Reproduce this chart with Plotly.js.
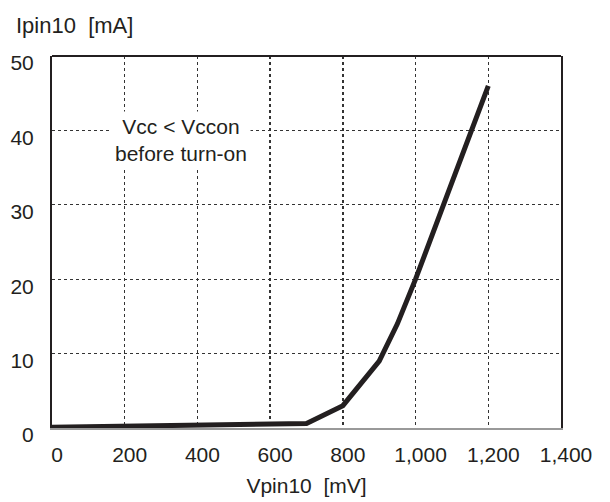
<!DOCTYPE html>
<html>
<head>
<meta charset="utf-8">
<script src="https://cdn.plot.ly/plotly-3.0.1.min.js"></script>
<style>html,body{margin:0;padding:0;background:#fff;}#chart{width:610px;height:502px;}</style>
</head>
<body>
<div id="chart"></div>
<script>
var vpin = [0, 100, 200, 300, 400, 500, 600, 700, 800, 900, 950, 1000, 1100, 1200];
var ipin = [0.1, 0.15, 0.2, 0.3, 0.35, 0.45, 0.5, 0.6, 3.0, 9.0, 14.0, 20.0, 33.0, 46.0];
var xTicks = [0, 200, 400, 600, 800, 1000, 1200, 1400];
var xTickText = ['0', '200', '400', '600', '800', '1,000', '1,200', '1,400'];
var yTicks = [0, 10, 20, 30, 40, 50];
var xTitle = 'Vpin10  [mV]';
var yTitle = 'Ipin10  [mA]';
var noteText = 'Vcc &lt; Vccon<br>before turn-on';

var FONT = '"Liberation Sans", Arial, sans-serif';

var trace = {
  x: vpin, y: ipin, type: 'scatter', mode: 'lines',
  line: {color: '#231f20', width: 5},
  hoverinfo: 'skip'
};

var layout = {
  width: 610, height: 502,
  margin: {l: 52, r: 49, t: 56, b: 74},
  paper_bgcolor: '#fff', plot_bgcolor: '#fff',
  showlegend: false,
  font: {family: FONT, color: '#231f20', size: 21},
  xaxis: {
    range: [0, 1400], tickvals: xTicks, ticktext: xTickText,
    showgrid: true, gridcolor: '#333', griddash: 'dot', gridwidth: 1.3,
    zeroline: false, showline: true, linecolor: '#999', linewidth: 2,
    ticks: '', ticklabelstandoff: 7, ticklabelshift: 5,
    tickfont: {family: FONT, size: 21, color: '#231f20'},
    title: {text: xTitle, standoff: 13, font: {family: FONT, size: 21, color: '#231f20'}}
  },
  yaxis: {
    range: [0, 50], tickvals: yTicks,
    showgrid: true, gridcolor: '#333', griddash: 'dot', gridwidth: 1.3,
    zeroline: false, showline: true, mirror: true, linecolor: '#231f20', linewidth: 2,
    ticks: '', ticklabelstandoff: 12, ticklabelshift: 7,
    tickfont: {family: FONT, size: 21, color: '#231f20'}
  },
  shapes: [
    {type: 'line', xref: 'paper', yref: 'paper', x0: 0, x1: 1, y0: 1, y1: 1,
     line: {color: '#231f20', width: 2}}
  ],
  annotations: [
    {xref: 'paper', yref: 'paper', x: -0.075, y: 1.083, xanchor: 'left', yanchor: 'middle',
     text: yTitle, showarrow: false, font: {family: FONT, size: 22, color: '#231f20'}},
    {xref: 'x', yref: 'y', x: 355, y: 38.7, xanchor: 'center', yanchor: 'middle',
     text: noteText, showarrow: false, bgcolor: '#fff', borderpad: 3, align: 'center',
     font: {family: FONT, size: 21, color: '#231f20'}}
  ]
};

Plotly.newPlot('chart', [trace], layout, {staticPlot: true, displayModeBar: false});
</script>
</body>
</html>
